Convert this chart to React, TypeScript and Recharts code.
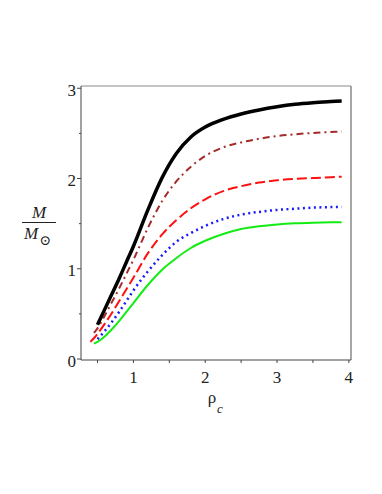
import { LineChart, Line, XAxis, YAxis, ReferenceLine } from "recharts";

// central density (x) and mass in solar masses for each model
const rho = [0.4, 0.45, 0.5, 0.6, 0.7, 0.8, 0.9, 1.0, 1.2, 1.4, 1.6, 1.8, 2.0, 2.25, 2.5, 2.75, 3.0, 3.25, 3.5, 3.75, 3.9];
const massBlack = [null, null, 0.38, 0.55, 0.72, 0.89, 1.07, 1.25, 1.65, 2.01, 2.28, 2.46, 2.57, 2.655, 2.715, 2.76, 2.795, 2.822, 2.84, 2.853, 2.86];
const massBrown = [null, 0.29, 0.34, 0.48, 0.63, 0.78, 0.94, 1.1, 1.45, 1.75, 1.97, 2.13, 2.25, 2.345, 2.4, 2.44, 2.47, 2.49, 2.505, 2.515, 2.52];
const massRed = [0.19, 0.23, 0.28, 0.39, 0.51, 0.64, 0.77, 0.9, 1.17, 1.38, 1.54, 1.67, 1.77, 1.86, 1.915, 1.955, 1.98, 1.995, 2.005, 2.015, 2.02];
const massBlue = [null, null, 0.22, 0.31, 0.41, 0.52, 0.64, 0.76, 0.97, 1.15, 1.3, 1.395, 1.475, 1.55, 1.6, 1.63, 1.652, 1.665, 1.677, 1.683, 1.685];
const massGreen = [null, 0.17, 0.19, 0.25, 0.33, 0.42, 0.52, 0.62, 0.82, 0.99, 1.12, 1.23, 1.31, 1.385, 1.44, 1.47, 1.49, 1.503, 1.51, 1.514, 1.515];

const xTicks = [0.5, 1, 1.5, 2, 2.5, 3, 3.5, 4];
const yTicks = [0, 0.5, 1, 1.5, 2, 2.5, 3];

const data = rho.map((r, i) => ({
  rho: r,
  black: massBlack[i],
  brown: massBrown[i],
  red: massRed[i],
  blue: massBlue[i],
  green: massGreen[i],
}));

const FONT = "'Liberation Serif', 'DejaVu Serif', serif";
const AXIS = "#444";
const FRAME = "#888";

// eslint-disable-next-line @typescript-eslint/no-explicit-any
function YTick({ x, y, payload }: any) {
  const major = Number.isInteger(payload.value);
  return (
    <g>
      <line x1={x} x2={x - (major ? 4 : 2)} y1={y} y2={y} stroke={AXIS} strokeWidth={1} />
      {major && (
        <text x={x - 5} y={y + 7.5} textAnchor="end" style={{ fontFamily: FONT, fontSize: 17 }} fill="#222">
          {payload.value}
        </text>
      )}
    </g>
  );
}

// eslint-disable-next-line @typescript-eslint/no-explicit-any
function XTick({ x, y, payload }: any) {
  const major = Number.isInteger(payload.value);
  return (
    <g>
      <line x1={x} x2={x} y1={y} y2={y + 3} stroke={AXIS} strokeWidth={1} />
      {major && (
        <text x={x} y={y + 22.5} textAnchor="middle" style={{ fontFamily: FONT, fontSize: 17 }} fill="#222">
          {payload.value}
        </text>
      )}
    </g>
  );
}

function YLabel() {
  return (
    <g style={{ fontFamily: FONT }} fill="#222">
      <text x={39} y={218} textAnchor="middle" fontSize={17} fontStyle="italic">M</text>
      <line x1={22} x2={56} y1={222.5} y2={222.5} stroke="#222" strokeWidth={1} />
      <text x={31} y={239} textAnchor="middle" fontSize={17} fontStyle="italic">M</text>
      <text x={45} y={245} textAnchor="middle" fontSize={14} style={{ fontFamily: "'DejaVu Serif', serif" }}>⊙</text>
    </g>
  );
}

function XLabel() {
  return (
    <g style={{ fontFamily: FONT }} fill="#222">
      <text x={212} y={403} textAnchor="middle" fontSize={17}>ρ</text>
      <text x={220} y={413} textAnchor="middle" fontSize={13} fontStyle="italic">c</text>
    </g>
  );
}

export default function App() {
  return (
    <div style={{ position: "absolute", left: 0, top: 0, width: 382, height: 494, background: "#fff" }}>
      <LineChart width={382} height={494} data={data} margin={{ top: 86, right: 31, bottom: 0, left: 0 }}>
        <XAxis
          dataKey="rho"
          type="number"
          domain={[0.27, 4.03]}
          ticks={xTicks}
          height={134}
          stroke={AXIS}
          tickLine={false}
          tickSize={0}
          tickMargin={0}
          tick={<XTick />}
          interval={0}
          label={{ content: () => <XLabel /> }}
        />
        <YAxis
          type="number"
          domain={[-0.011, 3.025]}
          ticks={yTicks}
          width={81}
          stroke={AXIS}
          tickLine={false}
          tickSize={0}
          tickMargin={0}
          tick={<YTick />}
          interval={0}
          allowDataOverflow
          label={{ content: () => <YLabel /> }}
        />
        <ReferenceLine x={4.03} stroke={FRAME} strokeWidth={1.5} />
        <ReferenceLine y={3.025} stroke={FRAME} strokeWidth={1} />
        <Line dataKey="green" type="monotone" stroke="#12ec12" strokeWidth={2} dot={false} isAnimationActive={false} />
        <Line dataKey="blue" type="monotone" stroke="#1a1aff" strokeWidth={2.5} strokeDasharray="2 3.5" dot={false} isAnimationActive={false} />
        <Line dataKey="red" type="monotone" stroke="#ff1010" strokeWidth={2} strokeDasharray="10 4" dot={false} isAnimationActive={false} />
        <Line dataKey="brown" type="monotone" stroke="#a52a2a" strokeWidth={2} strokeDasharray="7 4 2 4" dot={false} isAnimationActive={false} />
        <Line dataKey="black" type="monotone" stroke="#000" strokeWidth={3.5} dot={false} isAnimationActive={false} />
      </LineChart>
    </div>
  );
}
